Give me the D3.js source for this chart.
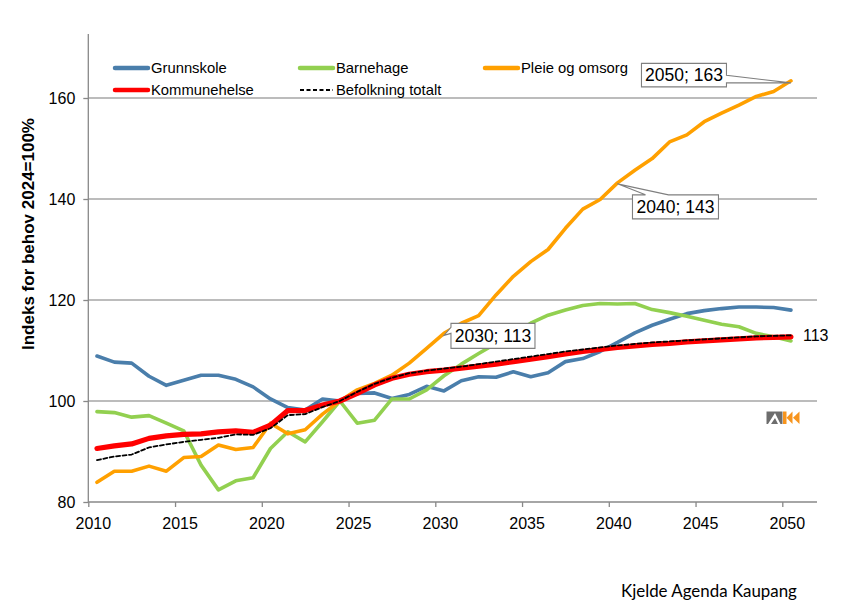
<!DOCTYPE html>
<html><head><meta charset="utf-8">
<script src="https://cdn.jsdelivr.net/npm/d3@7"></script>
<style>
body{margin:0;background:#fff;}
svg{display:block;}
text{font-family:"Liberation Sans",Arial,sans-serif;fill:#000;}
text.src{font-family:Lato,"Open Sans",sans-serif;}
</style>
</head><body>
<svg id="c" width="844" height="608"></svg>
<script>
const years = [2010,2011,2012,2013,2014,2015,2016,2017,2018,2019,2020,2021,2022,2023,2024,2025,2026,2027,2028,2029,2030,2031,2032,2033,2034,2035,2036,2037,2038,2039,2040,2041,2042,2043,2044,2045,2046,2047,2048,2049,2050];
const grunnskole = [108.9,107.7,107.5,104.9,103.1,104.1,105.1,105.1,104.3,102.8,100.4,98.7,98.2,100.4,100.0,101.5,101.6,100.5,101.3,102.9,102.0,104.0,104.8,104.7,105.8,104.8,105.6,107.8,108.4,109.8,111.6,113.5,115.0,116.2,117.3,117.9,118.3,118.6,118.6,118.5,118.0];
const barnehage = [97.9,97.7,96.8,97.1,95.6,94.1,87.3,82.4,84.2,84.8,90.6,93.9,91.9,95.9,100.0,95.6,96.2,100.4,100.4,102.2,105.0,107.3,109.4,111.4,113.4,115.4,117.0,118.0,118.9,119.3,119.2,119.3,118.1,117.5,116.8,116.0,115.2,114.7,113.4,112.7,111.9];
const pleieOgOmsorg = [83.9,86.1,86.1,87.1,86.1,88.8,89.0,91.3,90.4,90.8,95.6,93.5,94.3,97.4,100.0,102.2,103.5,105.1,107.5,110.4,113.4,115.4,116.9,121.0,124.7,127.6,130.0,134.2,138.0,139.9,143.2,145.7,148.0,151.3,152.7,155.3,157.0,158.6,160.3,161.3,163.4];
const kommunehelse = [90.6,91.1,91.5,92.6,93.1,93.4,93.5,93.9,94.1,93.8,95.2,98.1,98.1,99.2,100.0,101.5,103.2,104.5,105.3,105.8,106.1,106.5,106.9,107.3,107.8,108.3,108.8,109.3,109.8,110.2,110.6,110.9,111.2,111.4,111.7,111.9,112.1,112.3,112.5,112.6,112.7];
const befolkningTotalt = [88.3,89.0,89.4,90.8,91.4,91.9,92.3,92.7,93.4,93.3,94.6,97.2,97.4,98.8,100.0,101.8,103.4,104.6,105.5,106.0,106.4,106.8,107.3,107.8,108.3,108.8,109.3,109.8,110.2,110.6,111.0,111.3,111.6,111.8,112.0,112.2,112.4,112.6,112.8,112.9,113.0];
const seriesNames = ["Grunnskole","Barnehage","Pleie og omsorg","Kommunehelse","Befolkning totalt"];
const yTicks = [80,100,120,140,160];
const xTickLabels = [2010,2015,2020,2025,2030,2035,2040,2045,2050];
const callouts = [{year:2030, value:113, label:"2030; 113"},{year:2040, value:143, label:"2040; 143"},{year:2050, value:163, label:"2050; 163"}];
const endLabel = "113";
const sourceText = "Kjelde Agenda Kaupang";
const yTitle = "Indeks for behov 2024=100%";

const svg = d3.select("#c");
const pLeft = 88.3, pRight = 817, pBottom = 502, pTop = 34;
const x = d3.scaleLinear().domain([2010, 2052]).range([pLeft, pRight]);
const y = d3.scaleLinear().domain([80, 160]).range([pBottom, 98]);
const px = yr => x(yr + 0.5);

const series = [
  {name:seriesNames[0], values:grunnskole, color:"#4a7eab", w:3.6},
  {name:seriesNames[1], values:barnehage, color:"#92d050", w:3.6},
  {name:seriesNames[2], values:pleieOgOmsorg, color:"#ffa000", w:3.6},
  {name:seriesNames[3], values:kommunehelse, color:"#ff0000", w:5.2},
  {name:seriesNames[4], values:befolkningTotalt, color:"#000000", w:1.8, dash:"4,2.5"}
];

// gridlines
svg.append("g").selectAll("line").data(yTicks.filter(t=>t>80)).join("line")
  .attr("x1", pLeft).attr("x2", pRight).attr("y1", d=>y(d)).attr("y2", d=>y(d))
  .attr("stroke", "#a6a6a6").attr("stroke-width", 1.3);

// y axis
const yAxis = d3.axisLeft(y).tickValues(yTicks).tickSize(5).tickPadding(8).tickFormat(d3.format("d"));
const gy = svg.append("g").attr("transform", `translate(${pLeft},0)`).call(yAxis);
gy.select(".domain").remove();
gy.append("line").attr("x1",0).attr("x2",0).attr("y1",pTop).attr("y2",pBottom).attr("stroke","#888").attr("stroke-width",1.3);
gy.selectAll(".tick line").attr("stroke","#888").attr("stroke-width",1.3);
gy.selectAll(".tick text").attr("font-size","16px").attr("fill","#000");

// x axis
const xAxis = d3.axisBottom(x).tickValues(xTickLabels).tickSize(5).tickFormat("");
const gx = svg.append("g").attr("transform", `translate(0,${pBottom})`).call(xAxis);
gx.select(".domain").remove();
gx.append("line").attr("x1",pLeft).attr("x2",pRight).attr("y1",0).attr("y2",0).attr("stroke","#888").attr("stroke-width",1.3);
gx.selectAll(".tick line").attr("stroke","#888").attr("stroke-width",1.3);
svg.append("g").selectAll("text").data(xTickLabels).join("text")
  .attr("x", d=>x(d)+5).attr("y", pBottom+27).attr("text-anchor","middle")
  .attr("font-size","16px").text(d=>d);

// y title
svg.append("text").attr("transform","translate(34,234) rotate(-90)")
  .attr("text-anchor","middle").attr("font-weight","bold").attr("font-size","17px").text(yTitle);

// lines
const line = vals => d3.line().x((d,i)=>px(years[i])).y(d=>y(d)).curve(d3.curveLinear)(vals);
svg.append("g").selectAll("path").data(series).join("path")
  .attr("d", d=>line(d.values)).attr("fill","none").attr("stroke", d=>d.color)
  .attr("stroke-width", d=>d.w).attr("stroke-linejoin","round").attr("stroke-linecap","round")
  .attr("stroke-dasharray", d=>d.dash||null);

// legend
const legendPos = [[115,68],[300,68],[485,68],[115,90],[300,90]];
const lg = svg.append("g");
series.forEach((s,i)=>{
  const [lx,ly] = legendPos[i];
  lg.append("line").attr("x1",lx).attr("x2",lx+33).attr("y1",ly).attr("y2",ly)
    .attr("stroke",s.color).attr("stroke-width", s.dash?2:4.5).attr("stroke-dasharray", s.dash?"4,2.5":null)
    .attr("stroke-linecap", s.dash?"butt":"round");
  lg.append("text").attr("x",lx+36).attr("y",ly+5).attr("font-size","14.8px").text(s.name);
});

// callouts
const cg = svg.append("g");
function callout(c, box, side, w1, w2){
  const ax = px(c.year), ay = y(c.value);
  const bx = ax + box.dx, by = ay + box.dy, bw = box.w, bh = box.h;
  let p;
  if (side === "left") {
    p = `M${bx},${by} H${bx+bw} V${by+bh} H${bx} V${by+w2} L${ax},${ay} L${bx},${by+w1} Z`;
  } else if (side === "top") {
    p = `M${bx},${by} H${bx+w1} L${ax},${ay} L${bx+w2},${by} H${bx+bw} V${by+bh} H${bx} Z`;
  } else {
    p = `M${bx},${by} H${bx+bw} V${by+w1} L${ax},${ay} L${bx+bw},${by+w2} V${by+bh} H${bx} Z`;
  }
  cg.append("path").attr("d",p).attr("fill","#fff").attr("stroke","#7f7f7f").attr("stroke-width",1.1);
  cg.append("text").attr("x",bx+bw/2).attr("y",by+bh/2+6.2).attr("text-anchor","middle")
    .attr("font-size","17.5px").text(c.label);
}
callout(callouts[0], {dx:7, dy:-12, w:84, h:25}, "left", 4, 10);
callout(callouts[1], {dx:15, dy:11, w:86, h:24}, "top", 13, 36);
callout(callouts[2], {dx:-149.5, dy:-19.5, w:85, h:23.5}, "right", 12, 19.5);

// end label
svg.append("text").attr("x", px(2050)+12).attr("y", y(befolkningTotalt[40])+6).attr("font-size","16px").text(endLabel);

// logo
const logo = svg.append("g").attr("transform","translate(766.5,411.5)");
logo.append("path").attr("d","M0,12.5 L0,0 L16,0 L16,12.5 Z").attr("fill","#6d6d6d");
logo.append("path").attr("d","M1.5,12.5 L8.5,1.5 L14,12.5 L11.5,12.5 L8.5,6.5 L4.5,12.5 Z").attr("fill","#fff");
logo.append("path").attr("d","M16.5,0 L20,0 L20,12.5 L16.5,12.5 Z").attr("fill","#f7941d");
logo.append("path").attr("d","M20,6.25 L26,0 L26,12.5 Z").attr("fill","#f7941d");
logo.append("path").attr("d","M26.5,6.25 L33,0 L33,12.5 Z").attr("fill","#f7941d");

// source
svg.append("text").attr("class","src").attr("x",621).attr("y",597).attr("font-size","16.9px").text(sourceText);
</script>
</body></html>
